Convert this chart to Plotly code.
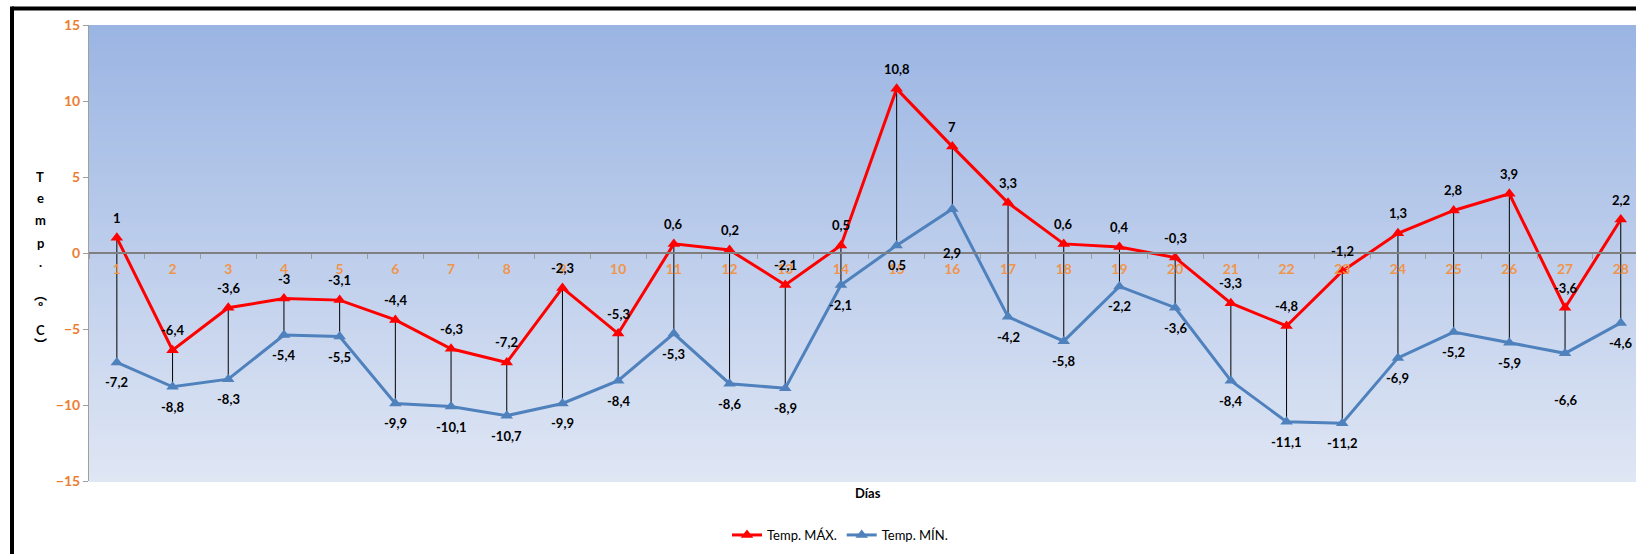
import plotly.graph_objects as go

# ---- data ----
days = ["1", "2", "3", "4", "5", "6", "7", "8", "9", "10", "11", "12", "13", "14",
        "15", "16", "17", "18", "19", "20", "21", "22", "23", "24", "25", "26", "27", "28"]
temp_max = [1, -6.4, -3.6, -3, -3.1, -4.4, -6.3, -7.2, -2.3, -5.3, 0.6, 0.2, -2.1, 0.5,
            10.8, 7, 3.3, 0.6, 0.4, -0.3, -3.3, -4.8, -1.2, 1.3, 2.8, 3.9, -3.6, 2.2]
temp_min = [-7.2, -8.8, -8.3, -5.4, -5.5, -9.9, -10.1, -10.7, -9.9, -8.4, -5.3, -8.6, -8.9, -2.1,
            0.5, 2.9, -4.2, -5.8, -2.2, -3.6, -8.4, -11.1, -11.2, -6.9, -5.2, -5.9, -6.6, -4.6]
y_ticks = [-15, -10, -5, 0, 5, 10, 15]

# ---- layout geometry (pixels) ----
W, H = 1636, 554
L, T, B = 89, 25, 481
PW, PH = W - L, B - T
CAT = 55.7  # px per category


def px_x(x):
    return (x - L) / PW


def px_y(y):
    return (B - y) / PH


def fmt(v):
    return f"{v:g}".replace(".", ",")


FONT = "Lato, 'Open Sans', sans-serif"
ORANGE = "#ED7D31"

fig = go.Figure()

# high-low lines
hx, hy = [], []
for d, a, b in zip(days, temp_max, temp_min):
    hx += [d, d, None]
    hy += [a, b, None]
fig.add_trace(go.Scatter(x=hx, y=hy, mode="lines", line=dict(color="black", width=1),
                         showlegend=False, hoverinfo="skip"))

fig.add_trace(go.Scatter(x=days, y=temp_max, mode="lines+markers", name="Temp. MÁX.",
                         line=dict(color="#FF0000", width=3),
                         marker=dict(symbol="triangle-up", size=11, color="#FF0000")))
fig.add_trace(go.Scatter(x=days, y=temp_min, mode="lines+markers", name="Temp. MÍN.",
                         line=dict(color="#4F81BD", width=3),
                         marker=dict(symbol="triangle-up", size=11, color="#4F81BD")))

annotations = []
min_label_shift = {"16": -44, "27": -47}
for i, (d, v) in enumerate(zip(days, temp_max)):
    annotations.append(dict(x=i, y=v, text=fmt(v), showarrow=False, yshift=20,
                            font=dict(family=FONT, size=13, color="black", weight="bold")))
for i, (d, v) in enumerate(zip(days, temp_min)):
    annotations.append(dict(x=i, y=v, text=fmt(v), showarrow=False,
                            yshift=min_label_shift.get(d, -20),
                            font=dict(family=FONT, size=13, color="black", weight="bold")))

# stacked y-axis title
for ch, yy in [("T", 177), ("e", 198), ("m", 220), ("p", 243), (".", 262),
               ("︵", 293), ("º", 307), ("C", 330), ("︶", 343)]:
    fam = "'Noto Sans CJK JP'" if ch in "︵︶" else FONT
    annotations.append(dict(xref="paper", yref="paper", x=px_x(40), y=px_y(yy), text=ch,
                            showarrow=False, xanchor="center", yanchor="middle",
                            font=dict(family=fam, size=13, color="black", weight="bold")))

annotations.append(dict(xref="paper", yref="paper", x=px_x(868), y=px_y(493), text="Días",
                        showarrow=False, xanchor="center", yanchor="middle",
                        font=dict(family=FONT, size=13, color="black", weight="bold")))

# gradient background bands
shapes = []
top = (155, 181, 227)
bot = (223, 230, 244)
N = 90
for i in range(N):
    f = i / (N - 1)
    c = tuple(round(top[k] + (bot[k] - top[k]) * f) for k in range(3))
    shapes.append(dict(type="rect", xref="paper", yref="paper", x0=0, x1=1.01,
                       y1=1 - i / N, y0=1 - (i + 1) / N - 0.002, line=dict(width=0),
                       fillcolor=f"rgb{c}", layer="below"))

# black frame (top and left)
shapes.append(dict(type="line", xref="paper", yref="paper", x0=px_x(12), x1=px_x(W + 5),
                   y0=px_y(8.5), y1=px_y(8.5), line=dict(color="black", width=4)))
shapes.append(dict(type="line", xref="paper", yref="paper", x0=px_x(12), x1=px_x(12),
                   y0=px_y(6.5), y1=px_y(H + 5), line=dict(color="black", width=4)))

x_end = -0.5 + PW / CAT

fig.update_layout(
    width=W, height=H,
    margin=dict(l=L, r=0, t=T, b=H - B, pad=0),
    paper_bgcolor="white", plot_bgcolor="rgba(0,0,0,0)",
    font=dict(family=FONT, size=13, color="black"),
    xaxis=dict(type="category", range=[-0.5, x_end], anchor="free", position=0.5,
               showline=True, linecolor="#7F7F7F", linewidth=2, showgrid=False, zeroline=False,
               ticks="outside", tickson="boundaries", ticklen=5, tickcolor="#9F9F9F",
               tickfont=dict(family=FONT, size=14, color="#F0954A", weight="bold"),
               ticklabelstandoff=3),
    yaxis=dict(range=[-15, 15], tickvals=y_ticks, showgrid=False, zeroline=False,
               showline=True, linecolor="#9F9F9F", linewidth=1, ticks="outside", ticklen=5,
               tickcolor="#9F9F9F",
               tickfont=dict(family=FONT, size=14, color=ORANGE, weight="bold")),
    legend=dict(orientation="h", x=px_x(840), y=px_y(535), xanchor="center", yanchor="middle",
                font=dict(family=FONT, size=13, color="black"), bgcolor="rgba(0,0,0,0)",
                itemwidth=30, tracegroupgap=0),
    annotations=annotations,
    shapes=shapes,
    showlegend=True,
)

fig.write_html("out.html", config={"displayModeBar": False},
               post_script="document.body.style.margin='0';")
